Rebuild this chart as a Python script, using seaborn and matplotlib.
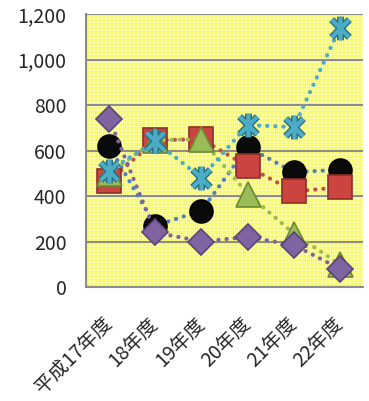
import matplotlib
matplotlib.use("Agg")
import matplotlib.pyplot as plt
import matplotlib.ticker as mticker
from matplotlib.path import Path
import numpy as np
import seaborn as sns
import pandas as pd

# Fiscal years on the x axis
years = ["平成17年度", "18年度", "19年度", "20年度", "21年度", "22年度"]

# Five series (values per fiscal year)
series_a = [620, 270, 335, 615, 505, 515]     # black spheres, blue dotted line
series_b = [465, 645, 650, 530, 420, 438]     # red squares
series_c = [500, 645, 650, 410, 235, 100]     # green triangles
series_d = [740, 240, 200, 220, 185, 80]      # purple diamonds
series_e = [512, 640, 480, 712, 703, 1140]    # aqua stars

y_ticks = [0, 200, 400, 600, 800, 1000, 1200]

sns.set_theme(style="white")
plt.rcParams["font.family"] = ["Noto Sans CJK JP", "DejaVu Sans"]

W, H = 369, 401
L, R, T, B = 86, 363, 14, 287
fig = plt.figure(figsize=(W / 100, H / 100), dpi=100)
ax = fig.add_axes([L / W, 1 - B / H, (R - L) / W, (B - T) / H])
ax.set_facecolor("none")

# Yellow plot area with a fine plaid texture, placed pixel for pixel
h, w = B - T, R - L
tex = np.zeros((h, w, 3))
tex[:] = [1.0, 1.0, 0.0]
r = np.arange(h)[:, None]
c = np.arange(w)[None, :]
tex[((r % 4) == 2) | ((c % 4) == 2)] = [1.0, 1.0, 0.3]
tex[((r % 4) == 0) | ((c % 4) == 0)] = [1.0, 1.0, 0.7]
fig.figimage(tex, xo=L, yo=H - B, origin="upper", zorder=-5)

# Star marker: vertical bar plus an X
star = Path([(0, -1), (0, 1), (-0.75, -0.75), (0.75, 0.75), (-0.75, 0.75), (0.75, -0.75)],
            [Path.MOVETO, Path.LINETO, Path.MOVETO, Path.LINETO, Path.MOVETO, Path.LINETO])

x = list(range(len(years)))
dots = (0, (0.05, 1.9))
styles = [
    (series_a, "#4f81bd", "o", "#0a0a0a", "#000000", 16.5),
    (series_b, "#c0504d", "s", "#cc4440", "#8c2f2c", 17),
    (series_c, "#9bbb59", "^", "#9bbb59", "#6b8a32", 18),
    (series_d, "#8064a2", "D", "#8064a2", "#5a4478", 13.5),
]
z = 3
for vals, lc, mk, fc, ec, ms in styles:
    df = pd.DataFrame({"year": x, "value": vals})
    sns.lineplot(data=df, x="year", y="value", ax=ax, color=lc, lw=3,
                 linestyle=dots, dash_capstyle="round", zorder=z)
    ax.plot(x, vals, linestyle="none", marker=mk, markersize=ms,
            markerfacecolor=fc, markeredgecolor=ec, markeredgewidth=1.2, zorder=z + 0.5)
    z += 1

df = pd.DataFrame({"year": x, "value": series_e})
sns.lineplot(data=df, x="year", y="value", ax=ax, color="#4bacc6", lw=3,
             linestyle=dots, dash_capstyle="round", zorder=z)
ax.plot(x, series_e, linestyle="none", marker=star, markersize=17,
        markerfacecolor="none", markeredgecolor="#2a6e80", markeredgewidth=5, zorder=z + 0.4)
ax.plot(x, series_e, linestyle="none", marker=star, markersize=17,
        markerfacecolor="none", markeredgecolor="#4bacc6", markeredgewidth=3, zorder=z + 0.5)

ax.set_xlim(-0.5, len(years) - 0.5)
ax.set_ylim(0, 1200)
ax.set_yticks(y_ticks)
ax.yaxis.set_major_formatter(mticker.FuncFormatter(lambda v, p: f"{int(v):,}"))
ax.grid(axis="y", color="#8c8c8c", lw=1.5, zorder=1)
ax.set_axisbelow(False)

# Category labels sit between the boundary ticks
ax.set_xticks([i - 0.5 for i in range(len(years) + 1)])
ax.set_xticklabels([])
ax.set_xticks(x, minor=True)
ax.set_xticklabels(years, minor=True, rotation=45, ha="right", va="center",
                   rotation_mode="anchor", fontsize=14)
ax.tick_params(axis="x", which="minor", length=0, pad=24)
ax.tick_params(axis="x", which="major", length=6, width=1.5, color="#8c8c8c", direction="out")
ax.tick_params(axis="y", length=6, width=1.5, color="#8c8c8c", direction="out",
               labelsize=14, pad=8)
ax.set_xlabel("")
ax.set_ylabel("")

for s in ["top", "right"]:
    ax.spines[s].set_visible(False)
for s in ["left", "bottom"]:
    ax.spines[s].set_color("#8c8c8c")
    ax.spines[s].set_linewidth(1.5)

fig.savefig("out.png", dpi=100)
